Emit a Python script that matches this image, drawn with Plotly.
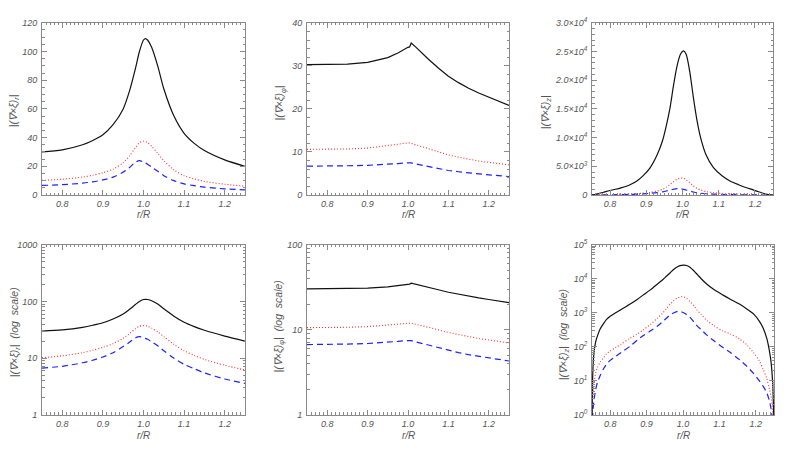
import plotly.graph_objects as go

# page body has an 8px margin; figure is sized to fill the rest of the 794x454 window
OFF = 8
W, H = 794 - OFF, 454 - OFF

# ---- radial component |(curl xi)_r| ----
x_r = [0.75, 0.80, 0.85, 0.875, 0.90, 0.925, 0.95, 0.965, 0.98, 0.99, 1.0, 1.005, 1.01,
       1.02, 1.035, 1.05, 1.075, 1.10, 1.125, 1.15, 1.20, 1.25]
r_black = [30.0, 31.5, 35.0, 38.0, 42.0, 49.0, 60.0, 72.0, 88.0, 100.0, 108.0, 109.0, 108.0,
           103.0, 90.0, 74.0, 55.0, 43.0, 36.0, 31.0, 24.5, 20.0]
r_red = [10.2, 11.0, 12.5, 13.8, 15.5, 18.0, 22.5, 27.0, 33.0, 36.5, 37.5, 37.2, 36.5,
         34.0, 29.0, 24.0, 17.5, 13.5, 11.2, 9.5, 7.5, 6.2]
r_blue = [6.7, 7.2, 8.3, 9.2, 10.5, 12.5, 16.0, 19.0, 22.8, 24.0, 23.0, 22.3, 21.5,
          19.5, 16.5, 13.5, 10.0, 7.8, 6.5, 5.5, 4.3, 3.6]

# ---- azimuthal component |(curl xi)_phi| ----
x_phi = [0.75, 0.80, 0.85, 0.90, 0.95, 0.975, 0.99, 1.0, 1.004, 1.008, 1.02, 1.035,
         1.05, 1.075, 1.10, 1.125, 1.15, 1.175, 1.20, 1.225, 1.25]
phi_black = [30.3, 30.3, 30.4, 30.8, 31.9, 33.0, 33.9, 34.3, 34.4, 35.3, 34.3, 32.9,
             31.6, 29.5, 27.6, 26.1, 24.8, 23.7, 22.7, 21.7, 20.8]
phi_red = [10.6, 10.6, 10.7, 10.9, 11.4, 11.8, 12.0, 12.1, 12.1, 12.0, 11.6, 11.2,
           10.8, 10.0, 9.3, 8.8, 8.3, 7.9, 7.6, 7.3, 7.0]
phi_blue = [6.7, 6.7, 6.8, 6.9, 7.1, 7.3, 7.45, 7.5, 7.5, 7.45, 7.2, 6.9,
            6.6, 6.1, 5.7, 5.4, 5.1, 4.9, 4.7, 4.5, 4.3]

# ---- vertical component |(curl xi)_z| ----
x_z = [0.750, 0.752, 0.755, 0.760, 0.765, 0.772, 0.782, 0.790, 0.800, 0.815, 0.830,
       0.855, 0.875, 0.890, 0.910, 0.930, 0.945, 0.955, 0.965, 0.975, 0.985, 0.995,
       1.003, 1.010, 1.020, 1.030, 1.040, 1.050, 1.065, 1.085, 1.110, 1.130, 1.155,
       1.175, 1.195, 1.210, 1.220, 1.230, 1.237, 1.242, 1.246, 1.248, 1.250]
z_black = [0.5, 15, 60, 140, 210, 330, 490, 640, 790, 1000, 1250,
           1800, 2500, 3300, 4700, 7000, 9500, 12000, 15000, 19000, 22500, 24600,
           25100, 24500, 21500, 17000, 13000, 10000, 7000, 4800, 3300, 2500, 1800,
           1300, 900, 560, 360, 180, 80, 35, 10, 3, 0.5]
z_red = [0.3, 3, 8, 17, 25, 35, 48, 62, 75, 95, 120,
         180, 240, 310, 450, 700, 1000, 1350, 1800, 2300, 2750, 2950,
         2900, 2650, 2100, 1600, 1150, 900, 600, 420, 290, 240, 170,
         115, 65, 38, 22, 12, 6, 3.5, 1.5, 0.8, 0.3]
z_blue = [0.2, 1.0, 2.5, 5.5, 9, 14, 23, 31, 40, 52, 68,
          105, 160, 210, 290, 410, 560, 700, 870, 1000, 1100, 1080,
          980, 880, 720, 530, 400, 320, 225, 150, 95, 68, 42,
          27, 16, 10, 7, 4.5, 2.7, 1.5, 0.7, 0.4, 0.2]

x_ticks = [0.8, 0.9, 1.0, 1.1, 1.2]
x_ticktext = ["0.8", "0.9", "1.0", "1.1", "1.2"]
z_lin_ticks = [0, 5000, 10000, 15000, 20000, 25000, 30000]
z_lin_text = ["0", "5.0×10<sup>3</sup>", "1.0×10<sup>4</sup>", "1.5×10<sup>4</sup>",
              "2.0×10<sup>4</sup>", "2.5×10<sup>4</sup>", "3.0×10<sup>4</sup>"]
z_log_ticks = [1, 10, 100, 1000, 10000, 100000]
z_log_text = ["10<sup>%d</sup>" % i for i in range(6)]

y_titles = ["|(∇×ξ)<sub>r</sub>|", "|(∇×ξ)<sub>φ</sub>|", "|(∇×ξ)<sub>z</sub>|",
            "|(∇×ξ)<sub>r</sub>|  (log  scale)", "|(∇×ξ)<sub>φ</sub>|  (log  scale)",
            "|(∇×ξ)<sub>z</sub>|  (log  scale)"]

FONT = "Liberation Sans"
AX = "#8a8a8a"
TXT = "#555555"

# plot boxes in window pixels: (left, right, top, bottom)
boxes = [(42, 245, 16, 193), (307, 509, 16, 193), (592, 773, 16, 193),
         (42, 245, 244, 419), (307, 509, 244, 419), (592, 774, 244, 419)]
ytitle_pos = [(14, 107), (280, 99), (546, 108), (15, 334), (279, 328), (564, 337)]


def fx(px):
    return (px - OFF) / W


def fy(py):
    return 1 - (py - OFF) / H


fig = go.Figure()

datasets = [
    (x_r, r_black, r_red, r_blue, "spline"),
    (x_phi, phi_black, phi_red, phi_blue, "linear"),
    (x_z, z_black, z_red, z_blue, "spline"),
]

for i in range(6):
    xs, yb, yr, yu, shape = datasets[i % 3]
    xa = "x" if i == 0 else "x%d" % (i + 1)
    ya = "y" if i == 0 else "y%d" % (i + 1)
    for ys, col, dash, w in [(yr, "#ff3030", "1px,2px", 1.1), (yu, "#2020ff", "6px,4px", 1.2),
                             (yb, "#111111", "solid", 1.2)]:
        fig.add_trace(go.Scatter(x=xs, y=ys, mode="lines", xaxis=xa, yaxis=ya,
                                 line=dict(color=col, dash=dash, width=w, shape=shape,
                                           smoothing=0.8),
                                 showlegend=False, hoverinfo="skip"))

layout = dict(width=W, height=H, margin=dict(l=0, r=0, t=0, b=0),
              paper_bgcolor="white", plot_bgcolor="white", showlegend=False,
              font=dict(family=FONT, size=9, color=TXT, style="italic"))

tickfont = dict(family=FONT, size=9, color=TXT, style="italic")

for i, (l, r, t, b) in enumerate(boxes):
    xk = "xaxis" if i == 0 else "xaxis%d" % (i + 1)
    yk = "yaxis" if i == 0 else "yaxis%d" % (i + 1)
    ya_name = "y" if i == 0 else "y%d" % (i + 1)
    xa_name = "x" if i == 0 else "x%d" % (i + 1)
    layout[xk] = dict(domain=[fx(l), fx(r)], range=[0.75, 1.25], anchor=ya_name,
                      tickvals=x_ticks, ticktext=x_ticktext, ticks="inside", ticklen=5,
                      tickcolor=AX, showline=True, linecolor=AX, linewidth=1,
                      mirror="allticks", showgrid=False, zeroline=False,
                      tickfont=tickfont, ticklabelstandoff=0,
                      minor=dict(ticks="inside", ticklen=2.5, dtick=0.01, tickcolor=AX,
                                 showgrid=False))
    yd = dict(domain=[fy(b), fy(t)], anchor=xa_name, ticks="inside", ticklen=5,
              tickcolor=AX, showline=True, linecolor=AX, linewidth=1,
              mirror="allticks", showgrid=False, zeroline=False, tickfont=tickfont,
              ticklabelstandoff=2)
    if i == 0:
        yd.update(range=[0, 120], tickvals=[0, 20, 40, 60, 80, 100, 120],
                  minor=dict(ticks="inside", ticklen=2.5, dtick=5, tickcolor=AX, showgrid=False))
    elif i == 1:
        yd.update(range=[0, 40], tickvals=[0, 10, 20, 30, 40],
                  minor=dict(ticks="inside", ticklen=2.5, dtick=2, tickcolor=AX, showgrid=False))
    elif i == 2:
        yd.update(range=[0, 30000], tickvals=z_lin_ticks, ticktext=z_lin_text,
                  minor=dict(ticks="inside", ticklen=2.5, dtick=1000, tickcolor=AX, showgrid=False))
    elif i == 3:
        yd.update(type="log", range=[0, 3], tickvals=[1, 10, 100, 1000],
                  ticktext=["1", "10", "100", "1000"],
                  minor=dict(ticks="inside", ticklen=2.5, dtick="D1", tickcolor=AX, showgrid=False))
    elif i == 4:
        yd.update(type="log", range=[0, 2], tickvals=[1, 10, 100],
                  ticktext=["1", "10", "100"],
                  minor=dict(ticks="inside", ticklen=2.5, dtick="D1", tickcolor=AX, showgrid=False))
    else:
        yd.update(type="log", range=[0, 5], tickvals=z_log_ticks, ticktext=z_log_text,
                  minor=dict(ticks="inside", ticklen=2.5, dtick="D1", tickcolor=AX, showgrid=False))
    layout[yk] = yd

annotations = []
for i, (l, r, t, b) in enumerate(boxes):
    cx = (l + r) / 2
    ty = 213 if i < 3 else 440
    annotations.append(dict(text="r/R", x=fx(cx), y=fy(ty), xref="paper", yref="paper",
                            showarrow=False, xanchor="center", yanchor="middle",
                            font=dict(family=FONT, size=10, color=TXT, style="italic")))
    px, py = ytitle_pos[i]
    annotations.append(dict(text=y_titles[i], x=fx(px), y=fy(py), xref="paper",
                            yref="paper", showarrow=False, textangle=-90,
                            xanchor="center", yanchor="middle",
                            font=dict(family=FONT, size=10.5, color=TXT, style="italic")))
layout["annotations"] = annotations

fig.update_layout(**layout)
fig.write_html("out.html")
